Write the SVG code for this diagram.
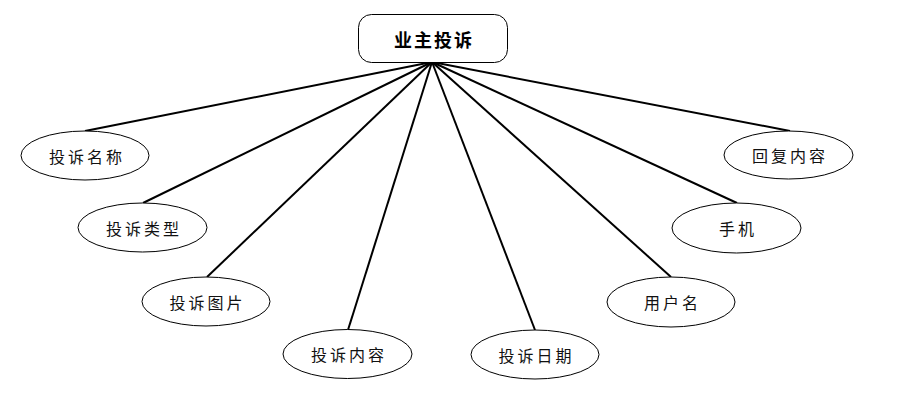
<svg xmlns="http://www.w3.org/2000/svg" width="916" height="400" viewBox="0 0 916 400">
<style>
.e{fill:#fff;stroke:#000;stroke-width:1}
.t{font-family:"Noto Sans CJK SC","Noto Sans",sans-serif;font-size:16px;letter-spacing:3px;fill:#111;text-anchor:middle;dominant-baseline:central}
.c{stroke:#000;stroke-width:2;fill:none}
</style>
<rect width="916" height="400" fill="#fff"/>
<g id="connectors">
<line class="c" x1="432" y1="62" x2="85" y2="131"/>
<line class="c" x1="432" y1="62" x2="143" y2="203"/>
<line class="c" x1="432" y1="62" x2="207" y2="277"/>
<line class="c" x1="432" y1="62" x2="348" y2="330"/>
<line class="c" x1="432" y1="62" x2="535" y2="330"/>
<line class="c" x1="432" y1="62" x2="671" y2="277"/>
<line class="c" x1="432" y1="62" x2="737" y2="203"/>
<line class="c" x1="432" y1="62" x2="790" y2="131"/>
</g>
<g id="root">
<rect x="358.5" y="14.5" width="149" height="48" rx="13" ry="13" fill="#fff" stroke="#000" stroke-width="1"/>
<text x="434" y="39" style="font-family:'Noto Sans CJK SC','Noto Sans',sans-serif;font-size:18px;font-weight:bold;letter-spacing:2px;fill:#000;text-anchor:middle;dominant-baseline:central">业主投诉</text>
</g>
<g id="n1"><ellipse class="e" cx="85" cy="155.5" rx="64" ry="24.5"/><text class="t" x="87" y="155.5">投诉名称</text></g>
<g id="n2"><ellipse class="e" cx="142.5" cy="227.5" rx="64.5" ry="24.5"/><text class="t" x="144" y="227.5">投诉类型</text></g>
<g id="n3"><ellipse class="e" cx="206" cy="301.5" rx="64" ry="24.5"/><text class="t" x="207.5" y="301.5">投诉图片</text></g>
<g id="n4"><ellipse class="e" cx="347.5" cy="354" rx="64.5" ry="24.5"/><text class="t" x="349" y="354">投诉内容</text></g>
<g id="n5"><ellipse class="e" cx="535" cy="354.5" rx="64" ry="24.5"/><text class="t" x="536.5" y="354.5">投诉日期</text></g>
<g id="n6"><ellipse class="e" cx="671" cy="302" rx="64" ry="25"/><text class="t" x="672.5" y="302">用户名</text></g>
<g id="n7"><ellipse class="e" cx="736.5" cy="228" rx="64.5" ry="25"/><text class="t" x="738" y="228">手机</text></g>
<g id="n8"><ellipse class="e" cx="788.5" cy="155" rx="64.5" ry="24"/><text class="t" x="790" y="155">回复内容</text></g>
</svg>
